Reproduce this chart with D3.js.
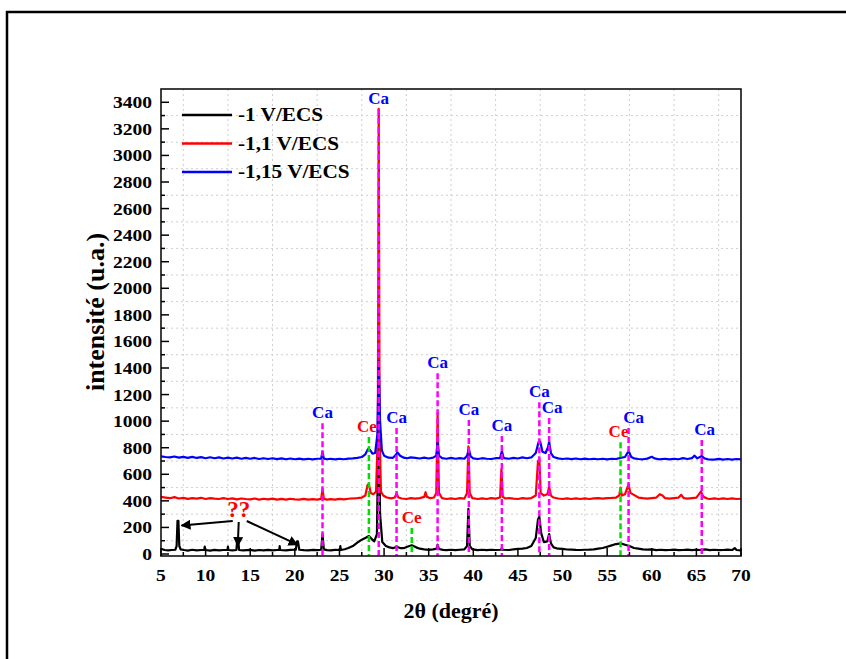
<!DOCTYPE html>
<html>
<head>
<meta charset="utf-8">
<script src="https://cdn.jsdelivr.net/npm/d3@7"></script>
<style>
  html, body { margin: 0; padding: 0; background: #fff; }
  svg { display: block; }
  text { font-family: "Liberation Serif", "Times New Roman", serif; font-weight: bold; }
</style>
</head>
<body>
<div id="chart"></div>
<script>
// XRD patterns: [2theta, intensity]
const seriesNames = ["-1 V/ECS", "-1,1 V/ECS", "-1,15 V/ECS"];
const seriesColors = ["#000000", "#ff0000", "#0000ff"];

const pattern1 = [[5,40],[5.4,30],[5.8,28],[6.2,30],[6.6,32],[6.75,60],[6.85,250],[6.95,250],[7.05,60],[7.2,35],[7.6,30],[8,26],[8.5,32],[9,28],[9.5,30],[9.85,30],[9.9,55],[9.95,30],[10.5,26],[11,31],[11.5,27],[12,30],[12.45,30],[12.5,55],[12.55,30],[13,28],[13.45,30],[13.55,110],[13.65,110],[13.75,30],[14.2,27],[15,31],[15.5,26],[16,30],[16.5,27],[17,31],[17.5,27],[18,30],[18.25,30],[18.3,60],[18.35,30],[19,27],[19.5,31],[20.1,32],[20.25,95],[20.35,95],[20.5,32],[21,29],[21.5,27],[22,31],[22.5,29],[22.95,32],[23.1,150],[23.25,35],[23.6,29],[24,27],[24.5,31],[25.05,30],[25.1,60],[25.15,30],[25.6,36],[26,45],[26.5,60],[27,85],[27.5,108],[28,124],[28.3,135],[28.6,114],[28.9,95],[29.2,150],[29.4,1150],[29.55,300],[29.8,90],[30.2,60],[30.6,50],[31,44],[31.4,55],[31.8,45],[32.2,44],[32.6,55],[33.1,66],[33.6,50],[34,40],[34.5,35],[35,31],[35.5,35],[35.9,40],[36,70],[36.15,38],[36.6,31],[37,29],[37.5,32],[38,29],[38.5,32],[39,35],[39.3,60],[39.45,340],[39.6,60],[39.9,35],[40.5,29],[41,32],[41.5,29],[42,32],[42.5,30],[43.1,32],[43.2,45],[43.3,32],[44,30],[44.5,35],[45,38],[45.5,40],[46,45],[46.5,60],[47,120],[47.25,260],[47.4,280],[47.6,160],[47.9,90],[48.3,95],[48.5,150],[48.7,80],[49,50],[49.5,40],[50,38],[50.5,34],[51,33],[51.5,31],[52,30],[52.5,32],[53,33],[53.5,35],[54,40],[54.5,45],[55,55],[55.5,65],[56,75],[56.5,80],[57,70],[57.5,60],[58,45],[58.5,40],[59,35],[59.5,33],[60,35],[60.5,29],[61,32],[61.5,29],[62,30],[62.5,33],[63,29],[63.5,30],[64,33],[64.5,29],[65,32],[65.5,30],[66,35],[66.5,29],[67,32],[67.5,29],[68,30],[68.5,33],[69,30],[69.3,45],[69.5,30],[70,28]];

const pattern2 = [[5,430],[5.5,425],[6,420],[6.5,428],[7,418],[7.5,423],[8,415],[8.5,421],[9,417],[9.5,423],[10,414],[10.5,421],[11,417],[11.5,414],[12,421],[12.5,414],[13,419],[13.5,411],[14,418],[14.5,414],[15,411],[15.5,418],[16,409],[16.5,416],[17,411],[17.5,417],[18,409],[18.5,415],[19,409],[19.5,416],[20,411],[20.5,409],[21,415],[21.5,409],[22,413],[22.5,409],[22.95,415],[23.1,490],[23.25,415],[23.6,409],[24,413],[24.5,409],[25,415],[25.5,411],[26,416],[26.5,418],[27,421],[27.5,425],[27.9,440],[28.15,520],[28.3,525],[28.5,460],[28.8,450],[29.1,470],[29.3,900],[29.4,3350],[29.5,900],[29.65,470],[29.9,440],[30.3,425],[30.8,419],[31.2,425],[31.4,455],[31.6,425],[32,418],[32.5,414],[33,421],[33.5,417],[34,421],[34.5,430],[34.65,465],[34.8,430],[35.2,420],[35.6,425],[35.85,460],[36,1060],[36.15,460],[36.5,420],[37,414],[37.5,419],[38,414],[38.5,421],[39,417],[39.3,460],[39.45,810],[39.6,460],[39.9,420],[40.5,414],[41,419],[41.5,414],[42,421],[42.5,417],[43,425],[43.15,640],[43.3,430],[43.6,418],[44,421],[44.5,417],[45,414],[45.5,421],[46,417],[46.5,421],[47,440],[47.25,700],[47.4,715],[47.55,460],[47.9,440],[48.3,450],[48.5,505],[48.7,440],[49,425],[49.5,418],[50,414],[50.5,419],[51,414],[51.5,419],[52,414],[52.5,419],[53,414],[53.5,419],[54,421],[54.5,417],[55,421],[55.5,422],[56,425],[56.35,440],[56.5,500],[56.65,440],[57,450],[57.4,525],[57.6,460],[58,445],[58.5,425],[59,420],[59.5,417],[60,421],[60.5,425],[60.9,450],[61.2,440],[61.5,420],[62,417],[62.5,421],[63,425],[63.3,445],[63.6,420],[64,417],[64.5,421],[65,425],[65.5,470],[65.8,430],[66.2,418],[66.5,414],[67,419],[67.5,414],[68,419],[68.5,414],[69,419],[69.5,414],[70,416]];

const pattern3 = [[5,735],[5.5,730],[6,727],[6.5,734],[7,725],[7.5,731],[8,724],[8.5,731],[9,723],[9.5,729],[10,721],[10.5,728],[11,721],[11.5,727],[12,719],[12.5,725],[13,719],[13.5,725],[14,717],[14.5,723],[15,717],[15.5,723],[16,715],[16.5,721],[17,715],[17.5,721],[18,714],[18.5,720],[19,713],[19.5,719],[20,713],[20.5,718],[21,712],[21.5,717],[22,712],[22.5,717],[22.95,718],[23.1,770],[23.25,718],[23.6,713],[24,717],[24.5,712],[25,717],[25.5,713],[26,718],[26.5,720],[27,724],[27.5,730],[27.9,750],[28.2,790],[28.4,785],[28.7,755],[29,760],[29.25,900],[29.4,1450],[29.55,1000],[29.75,780],[30,740],[30.5,725],[31,724],[31.3,745],[31.5,765],[31.8,740],[32.2,725],[32.6,721],[33,727],[33.5,723],[34,719],[34.5,725],[35,719],[35.5,725],[35.85,740],[36,840],[36.15,740],[36.5,722],[37,717],[37.5,723],[38,717],[38.5,721],[39,717],[39.3,740],[39.5,790],[39.7,735],[40,720],[40.5,715],[41,721],[41.5,717],[42,715],[42.5,721],[43,722],[43.2,775],[43.4,722],[44,717],[44.5,723],[45,719],[45.5,727],[46,721],[46.5,727],[47,760],[47.3,840],[47.5,845],[47.75,770],[48.1,760],[48.35,800],[48.5,845],[48.7,760],[49,730],[49.5,720],[50,715],[50.5,719],[51,714],[51.5,719],[52,713],[52.5,718],[53,713],[53.5,717],[54,713],[54.5,717],[55,712],[55.5,717],[56,715],[56.5,724],[57,730],[57.4,775],[57.7,730],[58,720],[58.5,715],[59,713],[59.5,718],[60,732],[60.3,720],[60.8,713],[61.5,717],[62,712],[62.5,717],[63,713],[63.5,722],[64,715],[64.5,722],[64.8,740],[65.1,720],[65.6,738],[65.9,720],[66.3,713],[67,711],[67.5,716],[68,711],[68.5,715],[69,711],[69.5,715],[70,712]];

// phase markers: 2theta, top of dashed line (intensity), phase label
const markerPos = [23.1, 28.3, 29.4, 31.4, 33.1, 36.0, 39.5, 43.2, 47.4, 48.5, 56.5, 57.4, 65.6];
const markerTop = [985, 880, 3350, 948, 196, 1360, 1008, 888, 1143, 1023, 842, 948, 858];
const markerPhase = ["Ca", "Ce", "Ca", "Ca", "Ce", "Ca", "Ca", "Ca", "Ca", "Ca", "Ce", "Ca", "Ca"];

// unidentified peaks pointed at by the "??" arrows: [2theta, intensity at arrow tip]
const unknownPeaks = [[7.3, 215], [13.6, 60], [20.3, 70]];

const xTicks = d3.range(5, 71, 5);
const yTicks = d3.range(0, 3401, 200);

const W = 846, H = 659;
const svg = d3.select("#chart").append("svg").attr("width", W).attr("height", H);

// outer frame (runs past the right/bottom edges)
svg.append("rect").attr("x", 7).attr("y", 12).attr("width", 900).attr("height", 700)
  .attr("fill", "none").attr("stroke", "#000").attr("stroke-width", 2.5);

const L = 161, R = 741, T = 89, B = 556;
const x = d3.scaleLinear().domain([5, 70]).range([L, R]);
const y = d3.scaleLinear().domain([-15, 3500]).range([B, T]);

// minor grid (dotted)
const grid = svg.append("g").attr("stroke", "#cfcfcf").attr("stroke-width", 1).attr("stroke-dasharray", "2,3");
d3.range(7.5, 70, 5).forEach(v => {
  grid.append("line").attr("x1", x(v)).attr("x2", x(v)).attr("y1", T).attr("y2", B);
});
d3.range(100, 3500, 200).forEach(v => {
  grid.append("line").attr("x1", L).attr("x2", R).attr("y1", y(v)).attr("y2", y(v));
});

// traces
const line = d3.line().x(d => x(d[0])).y(d => y(d[1]));
const plot = svg.append("g");
[pattern1, pattern2, pattern3].forEach((p, i) => {
  plot.append("path").datum(p).attr("d", line)
    .attr("fill", "none").attr("stroke", seriesColors[i])
    .attr("stroke-width", 2.2).attr("stroke-linejoin", "round");
});

// phase marker dashed lines + labels
const nudge = { 48.5: 3, 57.4: 5, 65.6: 3, 28.3: -2, 56.5: -2 };
markerPos.forEach((p, i) => {
  const isCa = markerPhase[i] === "Ca";
  svg.append("line")
    .attr("x1", x(p)).attr("x2", x(p))
    .attr("y1", y(markerTop[i])).attr("y2", B)
    .attr("stroke", isCa ? "#ff00ff" : "#00e000")
    .attr("stroke-width", 2.5).attr("stroke-dasharray", "6,3");
  svg.append("text")
    .attr("x", x(p) + (nudge[p] || 0)).attr("y", y(markerTop[i]) - 5)
    .attr("text-anchor", "middle").attr("font-size", 17)
    .attr("fill", isCa ? "#0000ff" : "#ff0000")
    .text(markerPhase[i]);
});

// "??" annotation with arrows
const qx = x(13.6) + 1, qy = 517;
svg.append("text").attr("x", qx).attr("y", qy).attr("text-anchor", "middle")
  .attr("font-size", 23).attr("fill", "#ff0000").text("??");
svg.append("defs").append("marker")
  .attr("id", "arr").attr("viewBox", "0 0 10 10").attr("refX", 9).attr("refY", 5)
  .attr("markerWidth", 5).attr("markerHeight", 5).attr("orient", "auto")
  .append("path").attr("d", "M0,0 L10,5 L0,10 z").attr("fill", "#000");
const starts = [[qx - 6, qy + 4], [qx, qy + 5], [qx + 8, qy + 4]];
unknownPeaks.forEach((d, i) => {
  svg.append("line")
    .attr("x1", starts[i][0]).attr("y1", starts[i][1])
    .attr("x2", x(d[0])).attr("y2", y(d[1]))
    .attr("stroke", "#000").attr("stroke-width", 2)
    .attr("marker-end", "url(#arr)");
});

// plot frame
svg.append("rect").attr("x", L).attr("y", T).attr("width", R - L).attr("height", B - T)
  .attr("fill", "none").attr("stroke", "#111").attr("stroke-width", 1.6);

// ticks (inward)
const ax = svg.append("g").attr("stroke", "#000").attr("stroke-width", 1.5);
yTicks.forEach(v => ax.append("line").attr("x1", L).attr("x2", L + 8).attr("y1", y(v)).attr("y2", y(v)));
d3.range(100, 3500, 200).forEach(v => ax.append("line").attr("x1", L).attr("x2", L + 4).attr("y1", y(v)).attr("y2", y(v)));
xTicks.forEach(v => ax.append("line").attr("x1", x(v)).attr("x2", x(v)).attr("y1", B).attr("y2", B - 8));
d3.range(7.5, 70, 5).forEach(v => ax.append("line").attr("x1", x(v)).attr("x2", x(v)).attr("y1", B).attr("y2", B - 4));

// tick labels (horizontally stretched like the figure)
const sx = 1.15;
yTicks.forEach(v => {
  svg.append("text").attr("transform", `translate(${L - 9},${y(v) + 6}) scale(${sx},1)`)
    .attr("text-anchor", "end").attr("font-size", 17).text(v);
});
xTicks.forEach(v => {
  svg.append("text").attr("transform", `translate(${x(v)},${B + 25}) scale(${sx},1)`)
    .attr("text-anchor", "middle").attr("font-size", 17).text(v);
});

// axis titles
svg.append("text").attr("transform", `translate(${(L + R) / 2},${B + 62}) scale(1.1,1)`)
  .attr("text-anchor", "middle").attr("font-size", 20).text("2\u03b8 (degré)");
svg.append("text").attr("transform", `translate(104,312) rotate(-90)`)
  .attr("text-anchor", "middle").attr("font-size", 26).text("intensité (u.a.)");

// legend
const lg = svg.append("g").attr("transform", "translate(182,115)");
seriesNames.forEach((n, i) => {
  lg.append("line").attr("x1", 0).attr("x2", 50).attr("y1", i * 28.5).attr("y2", i * 28.5)
    .attr("stroke", seriesColors[i]).attr("stroke-width", 2.5);
  lg.append("text").attr("transform", `translate(56,${i * 28.5 + 6}) scale(1.18,1)`)
    .attr("font-size", 18).text(n);
});
</script>
</body>
</html>
